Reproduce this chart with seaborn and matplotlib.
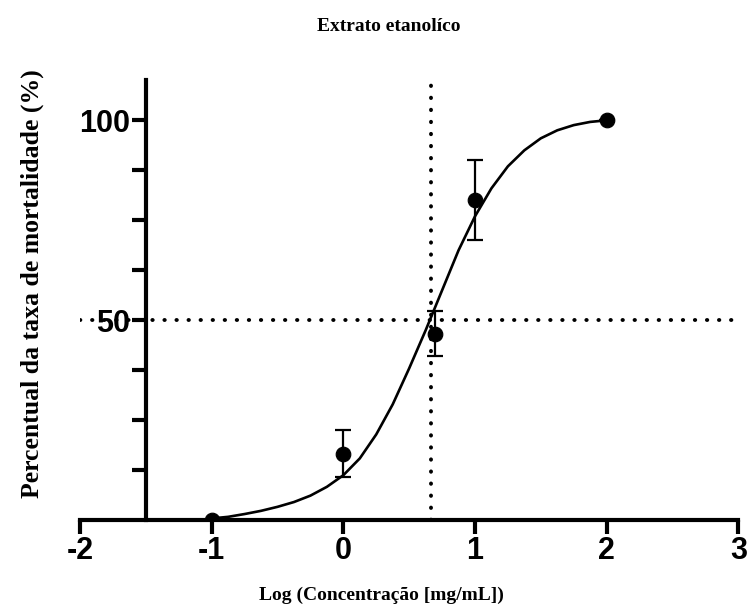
import numpy as np
import pandas as pd
import seaborn as sns
import matplotlib.pyplot as plt

# measured points (log concentration vs mortality %)
log_conc = [-1.0, 0.0, 0.699, 1.0, 2.0]
mortality = [0.0, 16.7, 46.7, 80.0, 100.0]
sd = [0.0, 5.9, 5.7, 10.0, 0.0]

# fitted curve
curve_x = [-1.0, -0.875, -0.75, -0.625, -0.5, -0.375, -0.25, -0.125, 0.0,
           0.125, 0.25, 0.375, 0.5, 0.625, 0.75, 0.875, 1.0, 1.125, 1.25,
           1.375, 1.5, 1.625, 1.75, 1.875, 2.0]
curve_y = [0.5, 0.9, 1.6, 2.4, 3.4, 4.6, 6.2, 8.4, 11.3,
           15.5, 21.5, 29.0, 38.0, 47.5, 57.5, 67.5, 76.0, 83.0, 88.5,
           92.5, 95.5, 97.5, 98.8, 99.6, 100.0]

ec50_log = 0.665
half = 50

x_ticks = [-2, -1, 0, 1, 2, 3]
y_ticks = [50, 100]

sns.set_style("ticks")
plt.rcParams['font.family'] = ['Liberation Sans', 'DejaVu Sans']
plt.rcParams['axes.unicode_minus'] = False
plt.rcParams['text.color'] = 'black'

fig = plt.figure(figsize=(7.48, 6.13), dpi=100)
ax = fig.add_axes([0.107, 0.151, 0.880, 0.718])

pts = pd.DataFrame({'x': log_conc, 'y': mortality})
crv = pd.DataFrame({'x': curve_x, 'y': curve_y})

dots = (0, (0.1, 3.0))
ax.plot([-2, 3], [half, half], color='black', lw=2.8,
        linestyle=dots, dash_capstyle='round', zorder=1)
ax.plot([ec50_log, ec50_log], [0, 110], color='black', lw=2.8,
        linestyle=dots, dash_capstyle='round', zorder=1)

sns.lineplot(data=crv, x='x', y='y', ax=ax, color='black', lw=1.9,
             sort=False, zorder=2)
ax.errorbar(log_conc, mortality, yerr=sd, fmt='none', ecolor='black',
            elinewidth=1.6, capsize=6, capthick=1.6, zorder=3)
sns.scatterplot(data=pts, x='x', y='y', ax=ax, color='black', s=110,
                edgecolor='black', zorder=4)

ax.set_xlim(-2, 3)
ax.set_ylim(0, 110)
ax.set_xticks(x_ticks)
ax.set_yticks(y_ticks)
ax.set_yticks([12.5, 25, 37.5, 62.5, 75, 87.5], minor=True)
ax.set_xlabel('')
ax.set_ylabel('')

ax.spines['left'].set_position(('data', -1.5))
ax.spines['top'].set_visible(False)
ax.spines['right'].set_visible(False)
for s in ['left', 'bottom']:
    ax.spines[s].set_linewidth(3)
    ax.spines[s].set_color('black')
ax.tick_params(axis='both', which='major', width=3, length=10,
               labelsize=22, pad=1.5, color='black', labelcolor='black')
ax.tick_params(axis='y', which='minor', width=3, length=10, color='black')
for lab in ax.get_xticklabels() + ax.get_yticklabels():
    lab.set_fontweight('bold')

serif = ['Liberation Serif', 'DejaVu Serif']
fig.text(0.52, 0.956, 'Extrato etanolíco', ha='center', va='center',
         fontsize=14, fontweight='bold', family=serif, color='black')
fig.text(0.51, 0.028, 'Log (Concentração [mg/mL])', ha='center',
         va='center', fontsize=14, fontweight='bold', family=serif,
         color='black')
fig.text(0.043, 0.538, 'Percentual da taxa de mortalidade (%)', ha='center',
         va='center', rotation=90, fontsize=18.5, fontweight='bold',
         family=serif, color='black')

fig.savefig('out.png', dpi=100)
